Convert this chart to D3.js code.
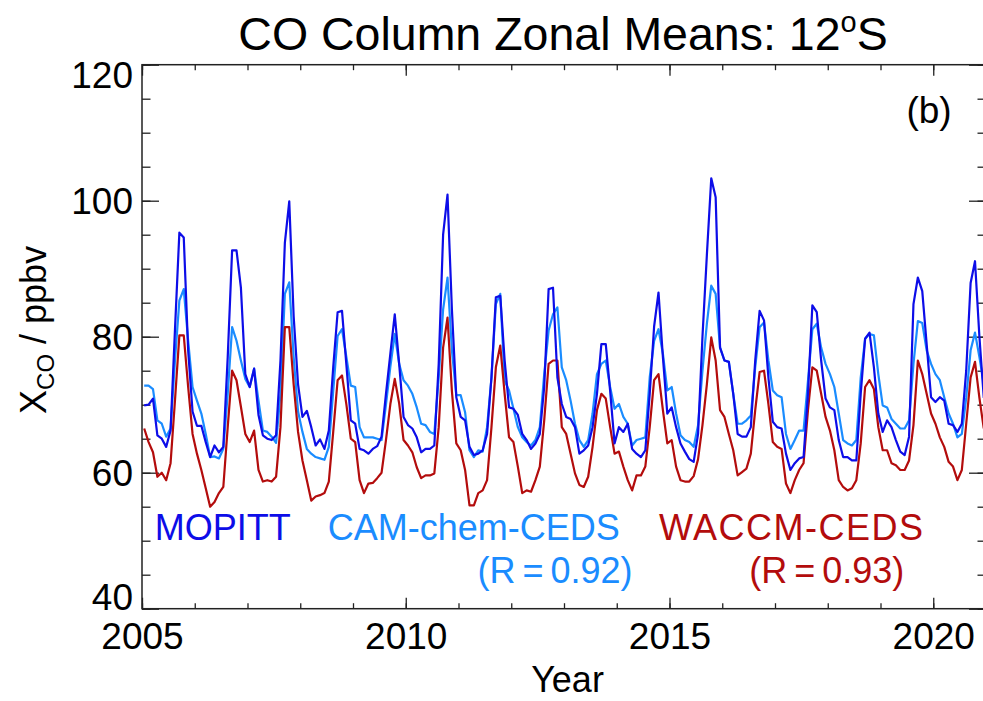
<!DOCTYPE html>
<html>
<head>
<meta charset="utf-8">
<script src="https://d3js.org/d3.v7.min.js"></script>
<style>
  body { margin: 0; background: #fff; }
  text { font-family: "Liberation Sans", Arial, Helvetica, sans-serif; }
</style>
</head>
<body>
<script>
// monthly zonal means, Jan 2005 .. Dec 2020
const startYear = 2005;
const yearTicks = [2005, 2010, 2015, 2020];
const valueTicks = [40, 60, 80, 100, 120];

const mopitt = [
  69.9, 70.0, 70.9, 65.5, 65.0, 63.8, 66.2, 81.0, 95.3, 94.6, 78.0, 69.0,
  66.9, 66.9, 64.5, 62.3, 64.0, 63.0, 63.8, 77.0, 92.7, 92.7, 87.2, 74.5,
  72.6, 75.3, 68.5, 65.5, 65.0, 64.8, 65.5, 76.5, 93.8, 99.9, 83.0, 73.0,
  68.2, 69.1, 66.7, 64.0, 64.9, 63.5, 66.2, 75.5, 83.6, 83.8, 75.8, 67.7,
  67.2, 63.5, 63.3, 62.8, 63.5, 63.9, 65.3, 71.6, 77.5, 83.3, 76.0, 68.2,
  67.0, 66.5, 65.2, 63.0, 63.5, 63.5, 64.0, 76.0, 95.0, 100.9, 84.0, 71.1,
  68.2, 67.7, 63.8, 62.6, 62.8, 63.3, 65.7, 74.0, 85.8, 86.0, 76.5, 69.6,
  69.4, 68.5, 65.7, 64.8, 63.5, 64.3, 65.7, 72.6, 87.0, 87.2, 74.0, 70.1,
  68.2, 67.9, 66.7, 62.8, 63.3, 64.0, 66.7, 71.6, 78.9, 78.9, 72.0, 64.3,
  66.7, 66.0, 67.2, 63.5, 62.8, 62.3, 63.3, 71.6, 81.5, 86.5, 77.0, 68.7,
  69.6, 66.7, 64.3, 63.1, 62.0, 61.6, 65.7, 80.0, 92.0, 103.3, 100.5, 78.4,
  76.5, 76.3, 71.6, 65.7, 65.3, 65.3, 66.7, 76.5, 83.8, 82.4, 74.0, 67.5,
  66.7, 66.5, 62.8, 60.4, 61.4, 62.1, 62.3, 71.6, 84.6, 83.6, 76.5, 70.9,
  69.6, 69.2, 64.8, 62.3, 62.3, 61.8, 61.8, 71.6, 79.7, 80.6, 75.5, 68.7,
  66.0, 67.7, 66.7, 64.8, 63.1, 62.6, 65.3, 84.8, 88.7, 86.7, 78.9, 71.1,
  70.4, 71.1, 70.6, 67.2, 67.0, 66.0, 67.2, 75.0, 87.9, 91.1, 80.0, 71.0
];

const camchem = [
  72.8, 72.8, 72.3, 67.7, 67.2, 65.3, 66.5, 76.5, 85.3, 87.0, 79.4, 72.6,
  70.6, 68.7, 65.7, 62.3, 62.4, 62.1, 63.5, 71.6, 81.4, 79.4, 76.5, 73.8,
  72.6, 75.3, 70.6, 66.2, 66.0, 65.3, 64.4, 71.6, 86.3, 88.0, 77.0, 69.0,
  66.0, 63.5, 62.8, 62.3, 62.1, 61.9, 63.8, 72.0, 80.1, 81.1, 77.0, 72.8,
  72.6, 66.7, 65.2, 65.2, 65.2, 65.0, 64.8, 70.0, 75.6, 80.4, 76.0, 73.6,
  72.8, 71.6, 69.6, 67.2, 67.0, 66.0, 65.7, 74.0, 84.0, 88.7, 78.0, 71.4,
  71.4, 68.9, 63.3, 62.3, 63.3, 63.1, 66.7, 74.0, 84.8, 86.3, 73.5, 72.1,
  69.4, 66.7, 65.2, 64.5, 64.0, 64.8, 66.7, 74.5, 80.9, 83.3, 84.3, 75.5,
  73.6, 70.6, 67.2, 64.8, 63.8, 64.8, 68.7, 74.5, 76.0, 76.5, 72.6, 69.4,
  70.1, 68.2, 67.2, 64.0, 64.8, 65.0, 65.2, 74.0, 79.4, 81.1, 77.5, 72.1,
  72.6, 68.7, 65.5, 64.8, 64.5, 63.8, 67.0, 75.0, 81.9, 87.5, 86.3, 78.4,
  76.5, 76.3, 71.6, 67.2, 67.2, 67.7, 68.4, 75.5, 81.4, 82.1, 76.5, 72.1,
  71.4, 71.1, 65.7, 63.5, 64.8, 66.2, 66.2, 73.5, 81.1, 81.9, 78.4, 76.0,
  74.5, 72.6, 68.7, 64.8, 64.3, 64.0, 64.8, 74.0, 79.7, 80.4, 80.2, 74.5,
  69.9, 69.6, 67.9, 67.2, 66.5, 66.5, 67.7, 76.0, 82.3, 82.0, 78.0, 76.0,
  74.5, 73.6, 71.1, 68.7, 67.2, 65.2, 65.7, 71.0, 78.0, 80.6, 77.0, 73.0
];

const waccm = [
  66.5, 64.5, 63.0, 59.4, 60.0, 58.9, 61.4, 70.6, 80.2, 80.2, 72.6, 65.7,
  62.8, 60.4, 57.7, 55.0, 55.7, 57.0, 57.9, 66.7, 75.0, 73.6, 69.7, 65.7,
  64.5, 66.2, 60.4, 58.7, 58.9, 58.7, 59.4, 66.7, 81.4, 81.4, 73.0, 66.0,
  61.8, 58.9, 55.9, 56.5, 56.7, 57.0, 58.7, 66.0, 73.6, 74.3, 70.0, 65.0,
  64.5, 58.9, 57.0, 58.4, 58.5, 59.2, 60.0, 64.8, 70.1, 73.8, 70.2, 64.8,
  64.0, 63.0, 60.8, 59.2, 59.6, 59.6, 59.9, 66.7, 78.4, 82.8, 72.0, 64.3,
  63.3, 60.4, 55.2, 55.2, 57.0, 57.4, 58.9, 66.7, 75.5, 78.7, 71.6, 65.2,
  64.5, 60.9, 57.0, 57.4, 57.2, 58.9, 60.9, 67.7, 76.0, 76.5, 76.5, 66.7,
  65.7, 62.8, 59.9, 58.2, 57.9, 59.4, 63.8, 69.2, 71.6, 70.9, 66.7, 62.8,
  63.1, 60.9, 58.9, 57.4, 59.6, 59.6, 60.9, 66.7, 73.6, 74.5, 69.2, 64.3,
  64.8, 60.9, 58.9, 58.7, 58.7, 59.5, 62.0, 67.0, 73.0, 79.9, 76.5, 69.2,
  68.2, 65.7, 63.3, 59.6, 60.1, 60.6, 62.8, 69.2, 74.8, 75.0, 70.1, 64.5,
  63.8, 63.5, 58.4, 57.0, 58.9, 60.4, 61.4, 69.2, 75.5, 75.0, 71.6, 68.2,
  66.2, 63.3, 58.9, 57.9, 57.4, 57.7, 58.9, 64.3, 72.6, 73.6, 72.3, 66.7,
  63.3, 63.3, 61.4, 61.1, 60.4, 60.4, 61.8, 67.0, 76.5, 74.5, 71.6, 68.7,
  67.2, 65.2, 63.8, 61.6, 60.9, 58.9, 60.4, 67.2, 74.0, 76.3, 71.0, 66.5
];

const width = 983, height = 701;
const margin = {left: 142, right: 986, top: 64.7, bottom: 608.7};

const svg = d3.select("body").append("svg")
    .attr("width", width)
    .attr("height", height);

const x = d3.scaleLinear().domain([2005, 2021]).range([margin.left, margin.right]);
const y = d3.scaleLinear().domain([40, 120]).range([margin.bottom, margin.top]);

const axisColor = "#222";

// minor ticks first, then major with labels
function styleAxis(g) {
    g.select(".domain").remove();
    g.selectAll("line").attr("stroke", axisColor).attr("stroke-width", 1.3);
    g.selectAll("text").attr("fill", "#000").style("font-family", '"Liberation Sans", Arial, sans-serif');
}

const yMinor = d3.range(40, 121, 5);
const xMinor = d3.range(2005, 2022, 1);

svg.append("g").attr("transform", `translate(${margin.left},0)`)
    .call(d3.axisLeft(y).tickValues(yMinor).tickSize(-8.5).tickFormat(""))
    .call(styleAxis);
svg.append("g").attr("transform", `translate(${margin.right},0)`)
    .call(d3.axisRight(y).tickValues(yMinor).tickSize(-8.5).tickFormat(""))
    .call(styleAxis);
svg.append("g").attr("transform", `translate(0,${margin.bottom})`)
    .call(d3.axisBottom(x).tickValues(xMinor).tickSize(-5.5).tickFormat(""))
    .call(styleAxis);
svg.append("g").attr("transform", `translate(0,${margin.top})`)
    .call(d3.axisTop(x).tickValues(xMinor).tickSize(-5.5).tickFormat(""))
    .call(styleAxis);

const yAxis = svg.append("g").attr("transform", `translate(${margin.left},0)`)
    .call(d3.axisLeft(y).tickValues(valueTicks).tickSize(-17).tickPadding(9).tickFormat(d3.format("d")))
    .call(styleAxis);
yAxis.selectAll("text").style("font-size", "37px")
    .attr("dy", d => d === 120 ? "0.62em" : d === 40 ? "0.02em" : "0.34em");

svg.append("g").attr("transform", `translate(${margin.right},0)`)
    .call(d3.axisRight(y).tickValues(valueTicks).tickSize(-17).tickFormat(""))
    .call(styleAxis);

const xAxis = svg.append("g").attr("transform", `translate(0,${margin.bottom})`)
    .call(d3.axisBottom(x).tickValues(yearTicks).tickSize(-11).tickPadding(14).tickFormat(d3.format("d")))
    .call(styleAxis);
xAxis.selectAll("text").style("font-size", "37px").attr("dy", "0.72em");

svg.append("g").attr("transform", `translate(0,${margin.top})`)
    .call(d3.axisTop(x).tickValues(yearTicks).tickSize(-11).tickFormat(""))
    .call(styleAxis);

// frame
svg.append("rect")
    .attr("x", margin.left).attr("y", margin.top)
    .attr("width", margin.right - margin.left)
    .attr("height", margin.bottom - margin.top)
    .attr("fill", "none").attr("stroke", axisColor).attr("stroke-width", 1.5);

// series
const line = d3.line()
    .x((d, i) => x(startYear + (i + 0.5) / 12))
    .y(d => y(d));

const series = [
    {name: "CAM-chem-CEDS", values: camchem, color: "#1a8cff"},
    {name: "WACCM-CEDS", values: waccm, color: "#b30c0c"},
    {name: "MOPITT", values: mopitt, color: "#0d0de8"}
];

svg.append("g").selectAll("path")
    .data(series)
    .join("path")
    .attr("d", d => line(d.values))
    .attr("fill", "none")
    .attr("stroke", d => d.color)
    .attr("stroke-width", 2.2)
    .attr("stroke-linejoin", "round");

// legend text
const legend = svg.append("g").style("font-size", "36px");
legend.append("text").attr("x", x(2005.24)).attr("y", y(50.1))
    .attr("fill", "#0d0de8").text("MOPITT");
legend.append("text").attr("x", x(2008.52)).attr("y", y(50.1))
    .attr("fill", "#1a8cff").text("CAM-chem-CEDS");
legend.append("text").attr("x", x(2014.3)).attr("y", y(43.8))
    .attr("text-anchor", "end").style("word-spacing", "-3px")
    .attr("fill", "#1a8cff").text("(R = 0.92)");
legend.append("text").attr("x", x(2014.8)).attr("y", y(50.1))
    .style("letter-spacing", "1.5px")
    .attr("fill", "#b30c0c").text("WACCM-CEDS");
legend.append("text").attr("x", x(2019.45)).attr("y", y(43.8))
    .attr("text-anchor", "end").style("word-spacing", "-3px")
    .attr("fill", "#b30c0c").text("(R = 0.93)");

svg.append("text").attr("x", x(2020.35)).attr("y", y(111.5))
    .attr("text-anchor", "end").style("font-size", "37px").text("(b)");

// title
const title = svg.append("text")
    .attr("x", 563).attr("y", 50)
    .attr("text-anchor", "middle")
    .style("font-size", "46.5px");
title.append("tspan").text("CO Column Zonal Means: 12");
title.append("tspan").attr("dy", -18).style("font-size", "29px").text("o");
title.append("tspan").attr("dy", 18).text("S");

// axis titles
svg.append("text")
    .attr("x", (margin.left + 983) / 2 + 5).attr("y", 692)
    .attr("text-anchor", "middle").style("font-size", "36px").text("Year");

const ylab = svg.append("text")
    .attr("transform", `translate(46,${y(81)}) rotate(-90)`)
    .attr("text-anchor", "middle").style("font-size", "36px");
ylab.append("tspan").text("X");
ylab.append("tspan").attr("dy", 8).style("font-size", "24px").text("CO");
ylab.append("tspan").attr("dy", -8).text(" / ppbv");
</script>
</body>
</html>
